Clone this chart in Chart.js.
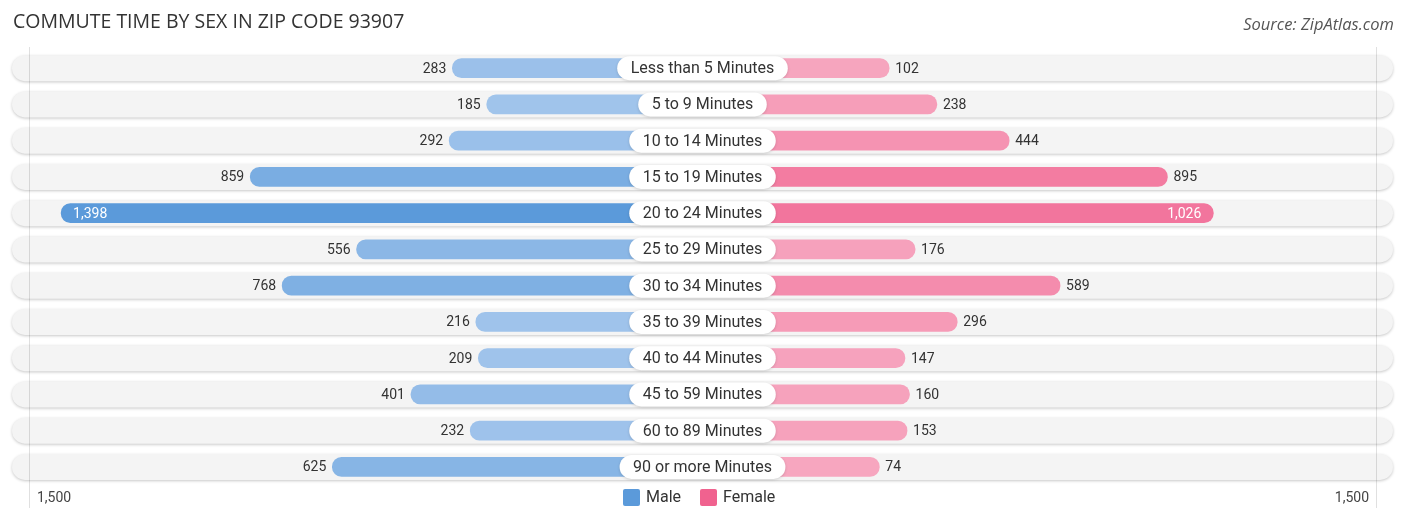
<!DOCTYPE html>
<html><head><meta charset="utf-8">
<script src="https://cdn.jsdelivr.net/npm/chart.js@4.4.0/dist/chart.umd.min.js"></script>
<style>html,body{margin:0;padding:0;background:#fff}#wrap{width:1406px;height:523px;position:relative}</style>
</head><body><div id="wrap"><canvas id="c" width="1406" height="523"></canvas></div>
<script>
const categories = ["Less than 5 Minutes","5 to 9 Minutes","10 to 14 Minutes","15 to 19 Minutes","20 to 24 Minutes","25 to 29 Minutes","30 to 34 Minutes","35 to 39 Minutes","40 to 44 Minutes","45 to 59 Minutes","60 to 89 Minutes","90 or more Minutes"];
const maleValues = [283,185,292,859,1398,556,768,216,209,401,232,625];
const femaleValues = [102,238,444,895,1026,176,589,296,147,160,153,74];
const axisLabels = ["1,500","1,500"];
const titleText = "COMMUTE TIME BY SEX IN ZIP CODE 93907";
const sourceText = "Source: ZipAtlas.com";

const OFFSET = 430;      // bars start under the centre label
const AXIS_MAX = 1968;
const GRID_VAL = 1919;
const maxV = Math.max(...maleValues, ...femaleValues);
function mix(a,b,t){return 'rgb('+a.map((x,i)=>Math.round(x+(b[i]-x)*t)).join(',')+')';}
const maleLight=[171,202,238], maleDark=[91,154,218];
const femLight=[247,170,194], femDark=[240,98,143];
const maleColors = maleValues.map(v=>mix(maleLight,maleDark,Math.min(1,v/maxV)));
const femColors = femaleValues.map(v=>mix(femLight,femDark,Math.min(1,v/maxV)));

function pill(ctx,x,y,w,h){const r=h/2;ctx.beginPath();ctx.moveTo(x+r,y);ctx.lineTo(x+w-r,y);ctx.arc(x+w-r,y+r,r,-Math.PI/2,Math.PI/2);ctx.lineTo(x+r,y+h);ctx.arc(x+r,y+r,r,Math.PI/2,Math.PI*1.5);ctx.closePath();}

const deco = {
  id:'deco',
  beforeDatasetsDraw(chart){
    const {ctx, chartArea:a, scales:{x,y}} = chart;
    ctx.save();
    categories.forEach((c,i)=>{
      const cy = y.getPixelForValue(i);
      const h=26;
      ctx.save();
      ctx.shadowColor='rgba(0,0,0,0.22)';ctx.shadowBlur=3;ctx.shadowOffsetY=1;
      pill(ctx,a.left,cy-h/2,a.right-a.left,h);
      ctx.fillStyle='#f4f4f4';ctx.fill();
      ctx.restore();
    });
    ctx.strokeStyle='rgba(0,0,0,0.12)';ctx.lineWidth=1;
    [-GRID_VAL,GRID_VAL].forEach(v=>{const px=Math.round(x.getPixelForValue(v))+0.5;ctx.beginPath();ctx.moveTo(px,a.top-3);ctx.lineTo(px,508);ctx.stroke();});
    ctx.restore();
  },
  afterDatasetsDraw(chart){
    const {ctx, scales:{x,y}} = chart;
    const cx = x.getPixelForValue(0);
    ctx.save();
    ctx.textBaseline='middle';
    categories.forEach((c,i)=>{
      const cy = y.getPixelForValue(i);
      ctx.font='14px Roboto';
      const mEnd = x.getPixelForValue(-(maleValues[i]+OFFSET));
      const fEnd = x.getPixelForValue(femaleValues[i]+OFFSET);
      const mTxt = maleValues[i].toLocaleString('en-US');
      const fTxt = femaleValues[i].toLocaleString('en-US');
      if (maleValues[i] > 1000){ctx.fillStyle='#fff';ctx.textAlign='left';ctx.fillText(mTxt,mEnd+12,cy+1);}
      else {ctx.fillStyle='#333';ctx.textAlign='right';ctx.fillText(mTxt,mEnd-6,cy+1);}
      if (femaleValues[i] > 1000){ctx.fillStyle='#fff';ctx.textAlign='right';ctx.fillText(fTxt,fEnd-12,cy+1);}
      else {ctx.fillStyle='#333';ctx.textAlign='left';ctx.fillText(fTxt,fEnd+6,cy+1);}
      ctx.font='16px Roboto';
      const w = ctx.measureText(c).width+27, h=24;
      ctx.save();
      ctx.shadowColor='rgba(0,0,0,0.15)';ctx.shadowBlur=3;ctx.shadowOffsetY=1;
      pill(ctx,cx-w/2,cy-h/2,w,h);ctx.fillStyle='#fff';ctx.fill();
      ctx.restore();
      ctx.fillStyle='#333';ctx.textAlign='center';ctx.fillText(c,cx,cy+1);
    });
    ctx.textAlign='left';ctx.fillStyle='#333';ctx.font='19.5px "Open Sans"';
    ctx.fillText(titleText,13,22);
    ctx.textAlign='right';ctx.fillStyle='#555';ctx.font='italic 16.5px "Open Sans"';
    ctx.fillText(sourceText,1394,25);
    ctx.font='14px Roboto';ctx.fillStyle='#444';
    ctx.textAlign='left';ctx.fillText(axisLabels[0],37,498);
    ctx.textAlign='right';ctx.fillText(axisLabels[1],1369,498);
    ctx.font='16px Roboto';ctx.textAlign='left';
    ctx.fillStyle=mix(maleLight,maleDark,1);ctx.beginPath();ctx.roundRect(623,489,17,17,2);ctx.fill();
    ctx.fillStyle='#333';ctx.fillText('Male',646,498);
    ctx.fillStyle=mix(femLight,femDark,1);ctx.beginPath();ctx.roundRect(700,489,17,17,2);ctx.fill();
    ctx.fillStyle='#333';ctx.fillText('Female',723,498);
    ctx.restore();
  }
};

new Chart(document.getElementById('c'),{
  type:'bar',
  data:{labels:categories,datasets:[
    {label:'Male',data:maleValues.map(v=>[-(v+OFFSET),0]),backgroundColor:maleColors,borderRadius:10,borderSkipped:false,barThickness:19,grouped:false},
    {label:'Female',data:femaleValues.map(v=>[0,v+OFFSET]),backgroundColor:femColors,borderRadius:10,borderSkipped:false,barThickness:19,grouped:false}
  ]},
  options:{
    indexAxis:'y',responsive:false,animation:false,devicePixelRatio:1,
    layout:{padding:{left:12,right:13,top:50,bottom:38}},
    plugins:{legend:{display:false},tooltip:{enabled:false},title:{display:false}},
    scales:{
      x:{display:false,min:-AXIS_MAX,max:AXIS_MAX},
      y:{display:false}
    }
  },
  plugins:[deco]
});
</script></body></html>
